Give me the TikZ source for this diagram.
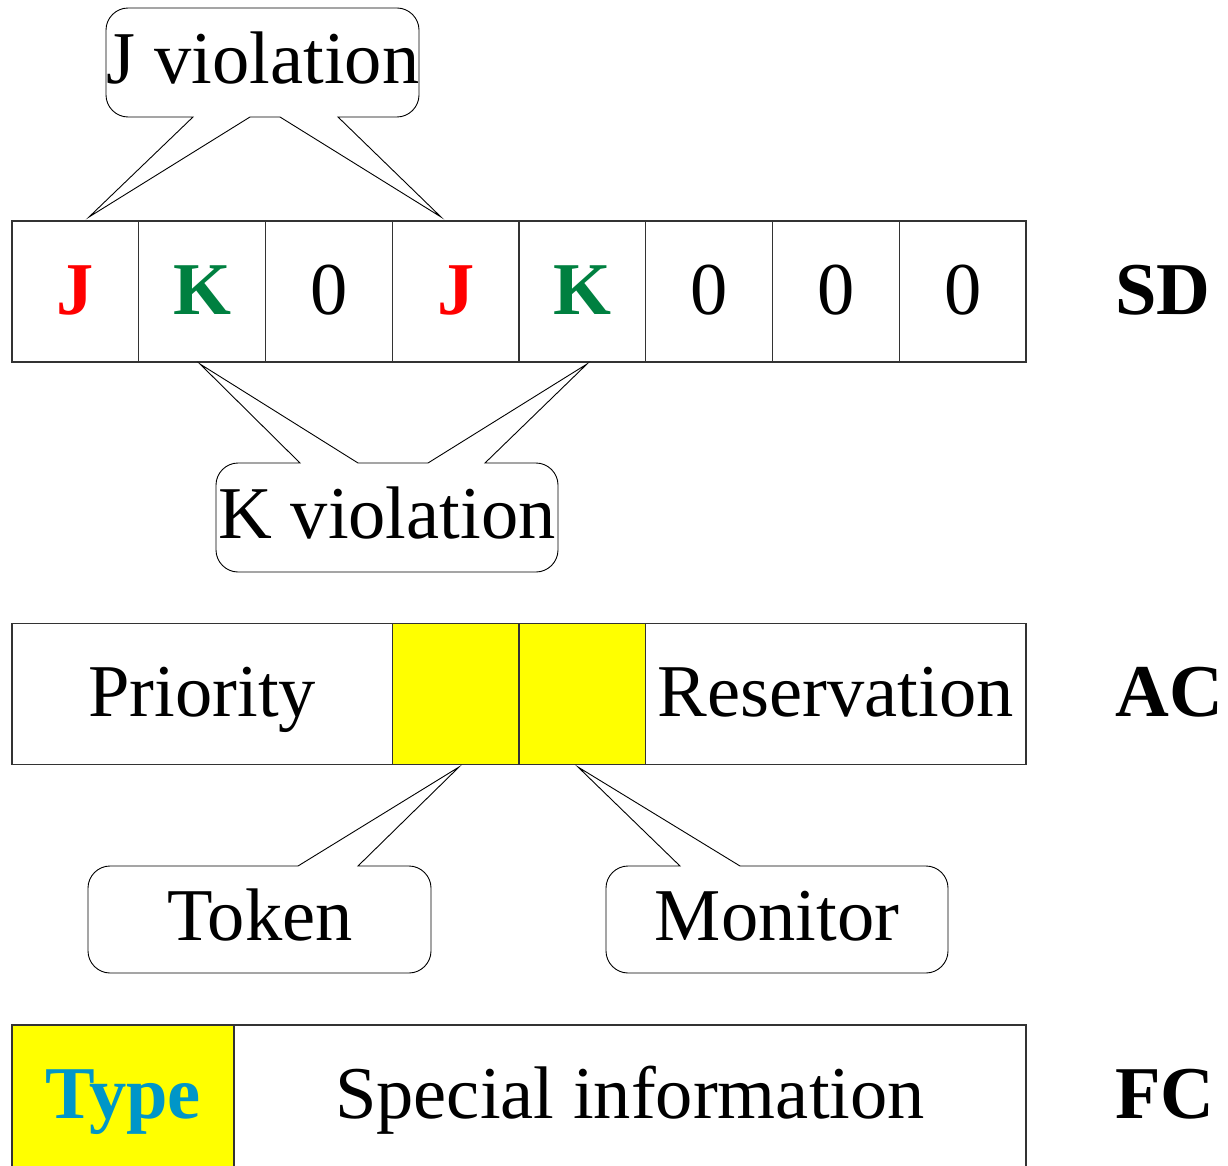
\documentclass[tikz,border=0pt]{standalone}
\usepackage{fontspec}
\setmainfont{Liberation Serif}
\usepackage{tikz}
\usetikzlibrary{calc}
\definecolor{jred}{RGB}{255,0,0}
\definecolor{kgreen}{RGB}{0,128,64}
\definecolor{typeblue}{RGB}{0,150,200}
\definecolor{fieldyellow}{RGB}{255,255,0}
\newcommand{\bigtxt}{\fontsize{74.5}{80}\selectfont}

\begin{document}
\begin{tikzpicture}[x=1pt,y=1pt,yscale=-1,xscale=1,
    cell/.style={draw=black!80,line width=1.3pt,inner sep=0pt,minimum height=141pt,text height=45pt,text depth=0pt,font=\bigtxt},
    sdcell/.style={cell,minimum width=126.75pt},
    fccell/.style={cell,minimum height=160pt,text height=26pt},
    callout/.style={draw=black,line width=0.9pt},
    lbl/.style={anchor=base,inner sep=0.75pt,font=\bigtxt}]
                  %set diagram left start at 0, width 1228 and height 1166
                  \clip (0,0) rectangle (1228,1166);

                  %Shape: Rectangle row SD
                  \node [sdcell] (sdj1) at (75.375,291.5) {\textcolor{jred}{\bfseries J}};
                  \node [sdcell] (sdk1) at (202.125,291.5) {\textcolor{kgreen}{\bfseries K}};
                  \node [sdcell] (sdz1) at (328.875,291.5) {0};
                  \node [sdcell] (sdj2) at (455.625,291.5) {\textcolor{jred}{\bfseries J}};
                  \node [sdcell] (sdk2) at (582.375,291.5) {\textcolor{kgreen}{\bfseries K}};
                  \node [sdcell] (sdz2) at (709.125,291.5) {0};
                  \node [sdcell] (sdz3) at (835.875,291.5) {0};
                  \node [sdcell] (sdz4) at (962.625,291.5) {0};

                  %Shape: Rectangle row AC
                  \node [cell,minimum width=380.25pt] (priority) at (202.125,694) {Priority};
                  \node [sdcell,fill=fieldyellow] (tokenbit) at (455.625,694) {};
                  \node [sdcell,fill=fieldyellow] (monitorbit) at (582.375,694) {};
                  \node [cell,minimum width=380.25pt] (reservation) at (835.875,694) {Reservation};

                  %Shape: Rectangle row FC (runs past the bottom edge)
                  \node [fccell,minimum width=222pt,fill=fieldyellow] (type) at (123,1105) {\textcolor{typeblue}{\bfseries Type}};
                  \node [fccell,minimum width=792pt] (special) at (630,1105) {Special information};

                  %Shape: Callout J violation
                  \draw [callout] (193,117) -- (89,217) -- (250,117) -- (280,117) -- (441,217) -- (338,117) -- (397,117) .. controls (409,117) and (419,107) .. (419,95) -- (419,30) .. controls (419,18) and (409,8) .. (397,8) -- (128,8) .. controls (116,8) and (106,18) .. (106,30) -- (106,95) .. controls (106,107) and (116,117) .. (128,117) -- cycle ;
                  %Shape: Callout K violation
                  \draw [callout] (300,463) -- (200,364) -- (358,463) -- (428,463) -- (587,364) -- (485,463) -- (536,463) .. controls (548,463) and (558,473) .. (558,485) -- (558,550) .. controls (558,562) and (548,572) .. (536,572) -- (238,572) .. controls (226,572) and (216,562) .. (216,550) -- (216,485) .. controls (216,473) and (226,463) .. (238,463) -- cycle ;
                  %Shape: Callout Token
                  \draw [callout] (298,866) -- (459,767) -- (358,866) -- (409,866) .. controls (421,866) and (431,876) .. (431,888) -- (431,951) .. controls (431,963) and (421,973) .. (409,973) -- (110,973) .. controls (98,973) and (88,963) .. (88,951) -- (88,888) .. controls (88,876) and (98,866) .. (110,866) -- cycle ;
                  %Shape: Callout Monitor
                  \draw [callout] (680,866) -- (578,767) -- (740,866) -- (926,866) .. controls (938,866) and (948,876) .. (948,888) -- (948,951) .. controls (948,963) and (938,973) .. (926,973) -- (628,973) .. controls (616,973) and (606,963) .. (606,951) -- (606,888) .. controls (606,876) and (616,866) .. (628,866) -- cycle ;

                  % Text Node
                  \draw (263,84) node [lbl] (jviol) {J violation};
                  % Text Node
                  \draw (387,538) node [lbl] (kviol) {K violation};
                  % Text Node
                  \draw (260,940) node [lbl] (token) {Token};
                  % Text Node
                  \draw (777,940) node [lbl] (monitor) {Monitor};
                  % Text Node
                  \draw (1163,314) node [lbl] (sd) {\bfseries SD};
                  % Text Node
                  \draw (1169,716) node [lbl] (ac) {\bfseries AC};
                  % Text Node
                  \draw (1165,1118) node [lbl] (fc) {\bfseries FC};

\end{tikzpicture}
\end{document}
